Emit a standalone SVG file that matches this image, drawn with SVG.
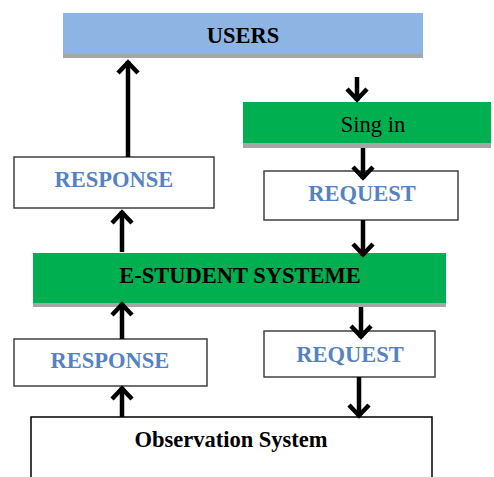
<svg xmlns="http://www.w3.org/2000/svg" width="494" height="477" viewBox="0 0 494 477">
<defs>
<style>
.t{font-family:"Liberation Serif","Times New Roman",serif;font-size:22.5px;text-anchor:middle}
.b{font-weight:bold}
.k{fill:#000}
.bl{fill:#5582C2}
.box{fill:#fff;stroke:#404040;stroke-width:1.5}
.sh{fill:#A6A6A6}
.c{stroke:#000;stroke-width:4.5;fill:none}
</style>
<marker id="ah" markerUnits="userSpaceOnUse" viewBox="-16 -14 18 28" refX="0" refY="0" markerWidth="18" markerHeight="28" orient="auto">
<path d="M-12,-10 L-1.5,0 L-12,10" fill="none" stroke="#000" stroke-width="4.5"/>
</marker>
</defs>
<rect width="494" height="477" fill="#fff"/>
<g id="users">
<rect class="sh" x="63" y="17" width="360" height="41"/>
<rect x="63" y="13" width="360" height="41" fill="#8EB4E3"/>
<text class="t b k" x="243" y="43">USERS</text>
</g>
<g id="signin">
<rect class="sh" x="243" y="106" width="248" height="42"/>
<rect x="243" y="102" width="248" height="41" fill="#00B050"/>
<text class="t k" x="373" y="132">Sing in</text>
</g>
<g id="request1">
<rect class="box" x="264" y="171" width="194" height="49"/>
<text class="t b bl" x="362" y="201">REQUEST</text>
</g>
<g id="response1">
<rect class="box" x="14" y="157" width="200" height="51"/>
<text class="t b bl" x="114" y="187">RESPONSE</text>
</g>
<g id="estudent">
<rect class="sh" x="33" y="257" width="413" height="50"/>
<rect x="33" y="253" width="413" height="50" fill="#00B050"/>
<text class="t b k" x="240" y="283">E-STUDENT SYSTEME</text>
</g>
<g id="response2">
<rect class="box" x="14" y="339" width="193" height="47"/>
<text class="t b bl" x="110" y="368">RESPONSE</text>
</g>
<g id="request2">
<rect class="box" x="264" y="331" width="171" height="46"/>
<text class="t b bl" x="350" y="362">REQUEST</text>
</g>
<g id="observation">
<path d="M31,478 V417 H432 V478" fill="#fff" stroke="#000" stroke-width="1.5"/>
<text class="t b k" x="231" y="447">Observation System</text>
</g>
<g id="connectors">
<line class="c" x1="128" y1="157" x2="128" y2="61" marker-end="url(#ah)"/>
<line class="c" x1="357" y1="77" x2="357" y2="101" marker-end="url(#ah)"/>
<line class="c" x1="363" y1="148" x2="363" y2="179" marker-end="url(#ah)"/>
<line class="c" x1="122" y1="252" x2="122" y2="211" marker-end="url(#ah)"/>
<line class="c" x1="363" y1="220" x2="363" y2="256" marker-end="url(#ah)"/>
<line class="c" x1="361" y1="307" x2="361" y2="338" marker-end="url(#ah)"/>
<line class="c" x1="122" y1="339" x2="122" y2="303" marker-end="url(#ah)"/>
<line class="c" x1="359" y1="377" x2="359" y2="417" marker-end="url(#ah)"/>
<line class="c" x1="122" y1="417" x2="122" y2="387" marker-end="url(#ah)"/>
</g>
</svg>
